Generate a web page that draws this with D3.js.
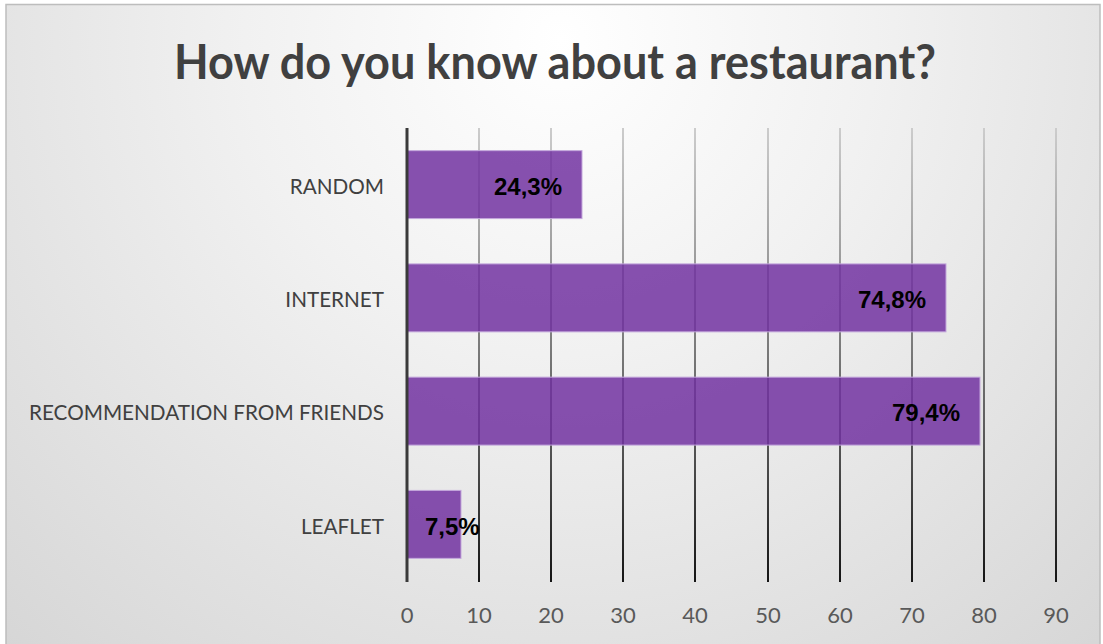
<!DOCTYPE html>
<html>
<head>
<meta charset="utf-8">
<script src="https://cdn.jsdelivr.net/npm/d3@7/dist/d3.min.js"></script>
<style>
  html, body { margin: 0; padding: 0; background: #ffffff; }
  svg { display: block; }
</style>
</head>
<body>
<svg id="chart" width="1103" height="644"></svg>
<script>
// Survey answers, listed from top row to bottom row
const categories = ["RANDOM", "INTERNET", "RECOMMENDATION FROM FRIENDS", "LEAFLET"];
const values = [24.3, 74.8, 79.4, 7.5];
const tickValues = [0, 10, 20, 30, 40, 50, 60, 70, 80, 90];
const titleText = "How do you know about a restaurant?";

const plot = { left: 407, right: 1056, top: 128, bottom: 581 };
const gridLen = plot.bottom + 1 - plot.top;
const narrow = 0.94; // condenses the sans text to a Calibri-like width

const svg = d3.select("#chart");
const defs = svg.append("defs");

// soft radial background, bright at the top centre
const bg = defs.append("radialGradient")
  .attr("id", "bgGrad")
  .attr("gradientUnits", "userSpaceOnUse")
  .attr("cx", 560).attr("cy", 40).attr("r", 900);
bg.append("stop").attr("offset", "0%").attr("stop-color", "#ffffff");
bg.append("stop").attr("offset", "35%").attr("stop-color", "#f1f1f1");
bg.append("stop").attr("offset", "100%").attr("stop-color", "#d2d2d2");

// gridlines fade from light grey at the top to near-black at the bottom
// (coordinates are local to each tick line, which runs from -gridLen up to 0)
const gg = defs.append("linearGradient")
  .attr("id", "gridGrad")
  .attr("gradientUnits", "userSpaceOnUse")
  .attr("x1", 0).attr("y1", -gridLen).attr("x2", 0).attr("y2", 0);
gg.append("stop").attr("offset", "0%").attr("stop-color", "#cccccc");
gg.append("stop").attr("offset", "30%").attr("stop-color", "#9a9a9a");
gg.append("stop").attr("offset", "70%").attr("stop-color", "#555555");
gg.append("stop").attr("offset", "100%").attr("stop-color", "#151515");

svg.append("rect")
  .attr("x", 6).attr("y", 4.5)
  .attr("width", 1094).attr("height", 660)
  .attr("fill", "url(#bgGrad)")
  .attr("stroke", "#bdbdbd").attr("stroke-width", 1.5);

const x = d3.scaleLinear().domain([0, 90]).range([plot.left, plot.right])
  .interpolate(d3.interpolateRound);
const y = d3.scaleBand().domain(categories)
  .range([plot.top, plot.bottom])
  .paddingInner(0.4).paddingOuter(0.2);

// value axis with full-height gridlines
const xAxis = svg.append("g")
  .attr("transform", `translate(0,${plot.bottom + 1})`)
  .call(d3.axisBottom(x).tickValues(tickValues)
    .tickSizeInner(-gridLen).tickSizeOuter(0).tickPadding(25)
    .tickFormat(d3.format("d")));
xAxis.select(".domain").remove();
xAxis.selectAll(".tick").attr("transform", d => `translate(${x(d)},0)`);
xAxis.selectAll(".tick line")
  .attr("stroke", "url(#gridGrad)").attr("stroke-width", 2);
xAxis.selectAll(".tick text")
  .attr("fill", "#595959")
  .style("font-family", "Lato, 'Open Sans', sans-serif")
  .style("font-size", "22px");

// bars
svg.append("g").selectAll("rect")
  .data(categories)
  .join("rect")
  .attr("x", x(0))
  .attr("y", d => y(d))
  .attr("width", (d, i) => x(values[i]) - x(0))
  .attr("height", y.bandwidth())
  .attr("fill", "#7030a0")
  .attr("fill-opacity", 0.84)
  .attr("stroke", "#c4a8dc")
  .attr("stroke-width", 1);

// category axis line
svg.append("line")
  .attr("x1", x(0)).attr("x2", x(0))
  .attr("y1", plot.top).attr("y2", plot.bottom + 1)
  .attr("stroke", "#3a3a3a").attr("stroke-width", 3);

// category labels
const yAxis = svg.append("g")
  .attr("transform", `translate(${x(0)},0)`)
  .call(d3.axisLeft(y).tickSize(0).tickPadding(23));
yAxis.select(".domain").remove();
yAxis.selectAll(".tick text")
  .attr("fill", "#404040")
  .attr("dy", "0.42em")
  .style("font-family", "Lato, 'Open Sans', sans-serif")
  .style("font-size", "22px")
  .each(function () {
    const w = this.getComputedTextLength();
    d3.select(this).attr("textLength", w * narrow).attr("lengthAdjust", "spacingAndGlyphs");
  });

// value labels, placed inside the bar end
const labelFmt = v => v.toFixed(1).replace(".", ",") + "%";
svg.append("g").selectAll("text")
  .data(categories)
  .join("text")
  .attr("y", d => y(d) + y.bandwidth() / 2)
  .attr("dy", "0.43em")
  .attr("text-anchor", "end")
  .attr("fill", "#000000")
  .style("font-family", "'Liberation Sans', Arial, sans-serif")
  .style("font-weight", "bold")
  .style("font-size", "24px")
  .text((d, i) => labelFmt(values[i]))
  .attr("x", function (d, i) {
    const w = this.getComputedTextLength();
    return Math.max(x(values[i]) - 20, x(0) + 18 + w);
  });

// title
const title = svg.append("text")
  .attr("x", 555).attr("y", 79)
  .attr("text-anchor", "middle")
  .attr("fill", "#404040")
  .style("font-family", "Lato, 'Open Sans', sans-serif")
  .style("font-weight", "bold")
  .style("font-size", "47px")
  .text(titleText);
title.attr("textLength", title.node().getComputedTextLength() * narrow * 1.02)
  .attr("lengthAdjust", "spacingAndGlyphs");
</script>
</body>
</html>
